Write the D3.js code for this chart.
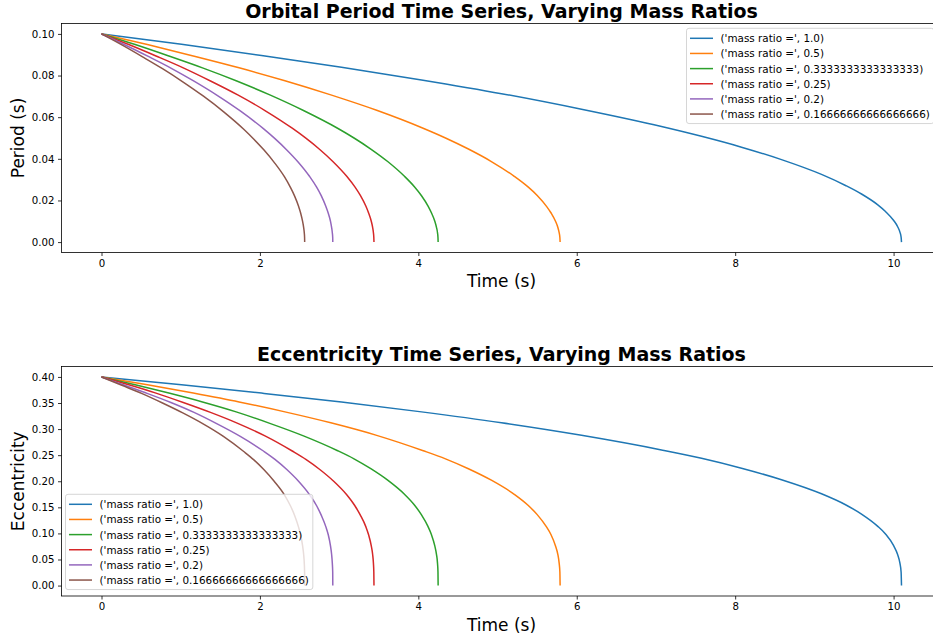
<!DOCTYPE html>
<html><head><meta charset="utf-8">
<script src="https://cdn.jsdelivr.net/npm/d3@7"></script>
<style>
body{margin:0;background:#fff;overflow:hidden}
text{font-family:"DejaVu Sans",sans-serif;fill:#000}
</style>
</head><body>
<svg id="chart" width="933" height="636"></svg>
<script>
// ---------------- data ----------------
const massRatios = ["1.0", "0.5", "0.3333333333333333", "0.25", "0.2", "0.16666666666666666"];
const seriesColors = ["#1f77b4", "#ff7f0e", "#2ca02c", "#d62728", "#9467bd", "#8c564b"];

const timeBlue   = [0, 1.01, 2.02, 3.03, 4.04, 5.05, 6.06, 7.07, 7.575, 8.08, 8.585, 9.09, 9.393, 9.595, 9.797, 9.898, 9.999, 10.05, 10.08, 10.095, 10.10];
const timeOrange = [0, 0.579, 1.158, 1.737, 2.316, 2.895, 3.474, 4.053, 4.343, 4.632, 4.922, 5.211, 5.385, 5.501, 5.616, 5.674, 5.732, 5.761, 5.778, 5.787, 5.79];
const timeGreen  = [0, 0.425, 0.85, 1.275, 1.70, 2.125, 2.55, 2.975, 3.188, 3.40, 3.613, 3.825, 3.953, 4.038, 4.123, 4.165, 4.208, 4.229, 4.242, 4.248, 4.25];
const timeRed    = [0, 0.344, 0.688, 1.032, 1.376, 1.72, 2.064, 2.408, 2.58, 2.752, 2.924, 3.096, 3.199, 3.268, 3.337, 3.371, 3.406, 3.423, 3.433, 3.438, 3.44];
const timePurple = [0, 0.292, 0.584, 0.876, 1.168, 1.46, 1.752, 2.044, 2.19, 2.336, 2.482, 2.628, 2.716, 2.774, 2.832, 2.862, 2.891, 2.905, 2.914, 2.919, 2.92];
const timeBrown  = [0, 0.257, 0.513, 0.770, 1.026, 1.283, 1.539, 1.796, 1.924, 2.052, 2.180, 2.309, 2.385, 2.437, 2.488, 2.514, 2.539, 2.552, 2.560, 2.564, 2.565];

const periodBlue   = [0.100, 0.0950, 0.0896, 0.0840, 0.0779, 0.0713, 0.0638, 0.0555, 0.0508, 0.0456, 0.0396, 0.0325, 0.0272, 0.0231, 0.0180, 0.0147, 0.0105, 0.0075, 0.0048, 0.0024, 0];
const periodOrange = [0.100, 0.0949, 0.0894, 0.0837, 0.0775, 0.0707, 0.0633, 0.0548, 0.0500, 0.0447, 0.0387, 0.0316, 0.0265, 0.0224, 0.0173, 0.0141, 0.0100, 0.0071, 0.0045, 0.0022, 0];
const periodGreen  = [0.100, 0.0949, 0.0894, 0.0837, 0.0775, 0.0707, 0.0632, 0.0548, 0.0500, 0.0447, 0.0387, 0.0316, 0.0265, 0.0224, 0.0173, 0.0141, 0.0100, 0.0071, 0.0045, 0.0022, 0];
const periodRed    = [0.100, 0.0949, 0.0894, 0.0837, 0.0774, 0.0707, 0.0632, 0.0547, 0.0499, 0.0446, 0.0386, 0.0316, 0.0265, 0.0224, 0.0173, 0.0141, 0.0100, 0.0071, 0.0045, 0.0022, 0];
const periodPurple = [0.100, 0.0948, 0.0893, 0.0836, 0.0773, 0.0705, 0.0630, 0.0545, 0.0497, 0.0444, 0.0385, 0.0315, 0.0264, 0.0223, 0.0172, 0.0140, 0.0100, 0.0071, 0.0045, 0.0022, 0];
const periodBrown  = [0.100, 0.0947, 0.0891, 0.0833, 0.0770, 0.0702, 0.0627, 0.0542, 0.0494, 0.0442, 0.0383, 0.0314, 0.0263, 0.0222, 0.0172, 0.0140, 0.0099, 0.0071, 0.0045, 0.0022, 0];

const eccBlue   = [0.400, 0.385, 0.369, 0.352, 0.333, 0.312, 0.288, 0.260, 0.244, 0.225, 0.203, 0.176, 0.155, 0.137, 0.114, 0.099, 0.077, 0.060, 0.043, 0.026, 0];
const eccOrange = [0.400, 0.385, 0.369, 0.352, 0.333, 0.312, 0.288, 0.259, 0.243, 0.224, 0.202, 0.175, 0.154, 0.136, 0.113, 0.098, 0.076, 0.060, 0.043, 0.026, 0];
const eccGreen  = [0.400, 0.385, 0.369, 0.352, 0.333, 0.311, 0.287, 0.259, 0.243, 0.224, 0.202, 0.175, 0.154, 0.136, 0.113, 0.098, 0.076, 0.060, 0.043, 0.026, 0];
const eccRed    = [0.400, 0.385, 0.369, 0.351, 0.332, 0.311, 0.287, 0.258, 0.242, 0.223, 0.201, 0.174, 0.153, 0.135, 0.113, 0.098, 0.076, 0.060, 0.043, 0.026, 0];
const eccPurple = [0.400, 0.384, 0.368, 0.351, 0.332, 0.310, 0.286, 0.258, 0.242, 0.223, 0.201, 0.174, 0.153, 0.135, 0.113, 0.098, 0.076, 0.060, 0.043, 0.026, 0];
const eccBrown  = [0.400, 0.384, 0.368, 0.350, 0.331, 0.310, 0.286, 0.257, 0.241, 0.222, 0.200, 0.174, 0.153, 0.135, 0.112, 0.097, 0.076, 0.060, 0.043, 0.026, 0];

const timeSeries   = [timeBlue, timeOrange, timeGreen, timeRed, timePurple, timeBrown];
const periodSeries = [periodBlue, periodOrange, periodGreen, periodRed, periodPurple, periodBrown];
const eccSeries    = [eccBlue, eccOrange, eccGreen, eccRed, eccPurple, eccBrown];

const xTicks = [0, 2, 4, 6, 8, 10];
const periodTicks = [0.00, 0.02, 0.04, 0.06, 0.08, 0.10];
const eccTicks = [0.00, 0.05, 0.10, 0.15, 0.20, 0.25, 0.30, 0.35, 0.40];

// ---------------- drawing ----------------
const svg = d3.select("#chart");
const axLeft = 61.5, axRight = 941.5;
const x = d3.scaleLinear().domain([-0.505, 10.605]).range([axLeft, axRight]);

function panel(opt) {
  const y = d3.scaleLinear().domain(opt.yDomain).range([opt.bottom, opt.top]);
  const g = svg.append("g");

  const clipId = "clip" + opt.id;
  svg.append("clipPath").attr("id", clipId).append("rect")
    .attr("x", axLeft).attr("y", opt.top).attr("width", axRight - axLeft).attr("height", opt.bottom - opt.top);

  // lines
  const line = d3.line().x(d => x(d[0])).y(d => y(d[1])).curve(d3.curveMonotoneX);
  const lines = g.append("g").attr("clip-path", `url(#${clipId})`);
  opt.values.forEach((vals, i) => {
    const pts = timeSeries[i].map((t, k) => [t, vals[k]]);
    lines.append("path").attr("d", line(pts)).attr("fill", "none")
      .attr("stroke", seriesColors[i]).attr("stroke-width", 1.5).attr("stroke-linejoin", "round");
  });

  // axes
  const xa = g.append("g").attr("transform", `translate(0,${opt.bottom})`)
    .call(d3.axisBottom(x).tickValues(xTicks).tickFormat(d3.format("d")).tickSizeOuter(0).tickSize(3.5).tickPadding(3.5));
  const ya = g.append("g").attr("transform", `translate(${axLeft},0)`)
    .call(d3.axisLeft(y).tickValues(opt.ticks).tickFormat(d3.format(".2f")).tickSizeOuter(0).tickSize(3.5).tickPadding(3.5));
  [xa, ya].forEach(a => {
    a.select(".domain").remove();
    a.selectAll("line").attr("stroke", "#000").attr("stroke-width", 0.8);
    a.selectAll("text").style("font-size", "10.2px").attr("fill", "#000");
  });

  // spines
  g.append("rect").attr("x", axLeft).attr("y", opt.top).attr("width", axRight - axLeft).attr("height", opt.bottom - opt.top)
    .attr("fill", "none").attr("stroke", "#000").attr("stroke-width", 0.8);

  // title & labels
  g.append("text").attr("x", (axLeft + axRight) / 2).attr("y", opt.top - 5.5).attr("text-anchor", "middle")
    .style("font-size", "19px").style("font-weight", "bold").text(opt.title);
  g.append("text").attr("x", (axLeft + axRight) / 2).attr("y", opt.bottom + 34.5).attr("text-anchor", "middle")
    .style("font-size", "17px").text("Time (s)");
  g.append("text").attr("transform", `translate(24,${(opt.top + opt.bottom) / 2}) rotate(-90)`).attr("text-anchor", "middle")
    .style("font-size", "17px").text(opt.ylabel);

  // legend
  const lg = svg.append("g");
  const frame = lg.append("rect").attr("rx", 2.5).attr("ry", 2.5)
    .attr("fill", "#fff").attr("fill-opacity", 0.8).attr("stroke", "#ccc").attr("stroke-width", 0.8);
  let maxW = 0;
  massRatios.forEach((m, i) => {
    const cy = opt.legY + i * 15.15;
    lg.append("line").attr("x1", opt.legX + 3.5).attr("x2", opt.legX + 26.5).attr("y1", cy).attr("y2", cy)
      .attr("stroke", seriesColors[i]).attr("stroke-width", 1.5);
    const t = lg.append("text").attr("x", opt.legX + 34).attr("y", cy + 3.9).style("font-size", "10.4px")
      .text(`('mass ratio =', ${m})`);
    maxW = Math.max(maxW, t.node().getComputedTextLength());
  });
  frame.attr("x", opt.legX).attr("y", opt.legY - 10).attr("width", 34 + maxW + 4).attr("height", 5 * 15.15 + 20 - 0.5);
}

panel({
  id: "p", top: 23.5, bottom: 252.5, yDomain: [-0.005, 0.105], ticks: periodTicks, values: periodSeries,
  title: "Orbital Period Time Series, Varying Mass Ratios", ylabel: "Period (s)",
  legX: 686.5, legY: 38.3
});
panel({
  id: "e", top: 366.5, bottom: 596, yDomain: [-0.02, 0.42], ticks: eccTicks, values: eccSeries,
  title: "Eccentricity Time Series, Varying Mass Ratios", ylabel: "Eccentricity",
  legX: 65.5, legY: 504.3
});
</script>
</body></html>
